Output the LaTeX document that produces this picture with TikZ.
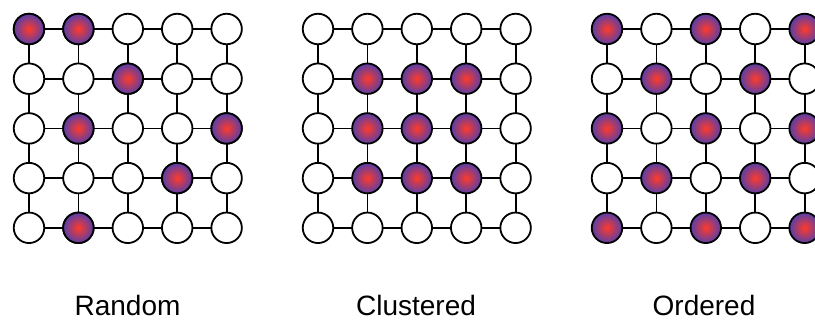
\documentclass[tikz,border=0pt]{standalone}
\usepackage{fontspec}
\setmainfont{Liberation Sans}
\definecolor{dotin}{RGB}{255,58,42}
\definecolor{dotout}{RGB}{88,62,168}
\tikzset{
  site/.style={circle, draw=black, line width=1.8pt, fill=white, minimum size=30.5pt, inner sep=0pt},
  hot/.style={site, inner color=dotin, outer color=dotout},
  bond/.style={draw=black, line width=1.8pt},
  lbl/.style={font=\fontsize{28}{32}\selectfont, anchor=base, inner sep=0pt, text depth=0pt}
}
\begin{document}
\begin{tikzpicture}[x=1pt,y=-1pt]
\useasboundingbox (0,0) rectangle (815,322);
% grid definitions
\foreach \g/\ox in {1/29, 2/318, 3/607}{
  \foreach \r in {0,...,4}{
    \foreach \c in {0,...,4}{
      \coordinate (p\g-\r-\c) at ({\ox+49.4*\c},{29+49.7*\r});
    }
  }
  \foreach \r in {0,...,4}{
    \draw[bond] (p\g-\r-0) -- (p\g-\r-4);
    \draw[bond] (p\g-0-\r) -- (p\g-4-\r);
  }
}
% Random
\foreach \r in {0,...,4}{
  \foreach \c in {0,...,4}{
    \node[site] (a\r\c) at (p1-\r-\c) {};
  }
}
\foreach \r/\c in {0/0,0/1,1/2,2/1,2/4,3/3,4/1}{
  \node[hot] (ah\r\c) at (p1-\r-\c) {};
}
% Clustered
\foreach \r in {0,...,4}{
  \foreach \c in {0,...,4}{
    \pgfmathtruncatemacro{\inside}{(\r>0)*(\r<4)*(\c>0)*(\c<4)}
    \ifnum\inside=1
      \node[hot] (b\r\c) at (p2-\r-\c) {};
    \else
      \node[site] (b\r\c) at (p2-\r-\c) {};
    \fi
  }
}
% Ordered
\foreach \r in {0,...,4}{
  \foreach \c in {0,...,4}{
    \pgfmathtruncatemacro{\parity}{mod(\r+\c,2)}
    \ifnum\parity=0
      \node[hot] (c\r\c) at (p3-\r-\c) {};
    \else
      \node[site] (c\r\c) at (p3-\r-\c) {};
    \fi
  }
}
\node[lbl] (t1) at (127.5,315) {Random};
\node[lbl] (t2) at (416,315) {Clustered};
\node[lbl] (t3) at (704,315) {Ordered};
\end{tikzpicture}
\end{document}
